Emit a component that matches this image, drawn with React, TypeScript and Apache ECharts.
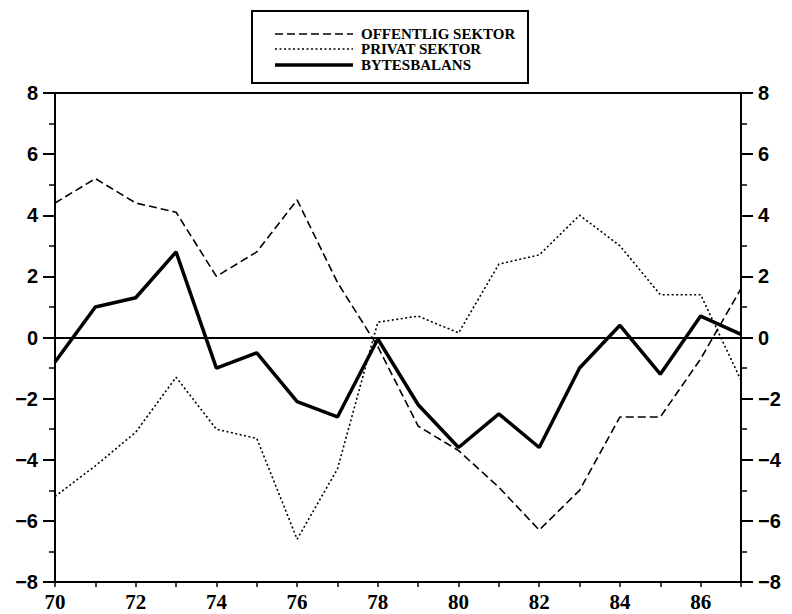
import React, { useEffect, useRef } from "react";
import * as echarts from "echarts";

const years = [70, 71, 72, 73, 74, 75, 76, 77, 78, 79, 80, 81, 82, 83, 84, 85, 86, 87];
const offentligSektor = [4.4, 5.2, 4.4, 4.1, 2.0, 2.8, 4.5, 1.8, -0.3, -2.9, -3.7, -4.9, -6.3, -5.0, -2.6, -2.6, -0.7, 1.6];
const privatSektor = [-5.2, -4.2, -3.1, -1.3, -3.0, -3.3, -6.6, -4.3, 0.5, 0.7, 0.15, 2.4, 2.7, 4.0, 3.0, 1.4, 1.4, -1.4];
const bytesbalans = [-0.8, 1.0, 1.3, 2.8, -1.0, -0.5, -2.1, -2.6, -0.05, -2.2, -3.6, -2.5, -3.6, -1.0, 0.4, -1.2, 0.7, 0.1];
const seriesNames = ["OFFENTLIG SEKTOR", "PRIVAT SEKTOR", "BYTESBALANS"];
const yMin = -8;
const yMax = 8;

const fmtY = (v: number) => (v < 0 ? "\u2212" + Math.abs(v) : String(v));

const dashPattern = [8, 4];
const dotPattern = [2, 2.5];

export default function App() {
  const ref = useRef<HTMLDivElement>(null);
  useEffect(() => {
    if (!ref.current) return;
    const chart = echarts.init(ref.current, undefined, { renderer: "svg" });
    const pair = (arr: number[]) => years.map((y, i) => [y, arr[i]]);
    const yAxisBase = (pos: "left" | "right") => ({
      type: "value",
      position: pos,
      min: yMin,
      max: yMax,
      interval: 2,
      axisLine: { show: true, lineStyle: { color: "#000", width: 2 } },
      axisTick: { show: true, length: 12, lineStyle: { color: "#000", width: 2 } },
      minorTick: { show: true, splitNumber: 2, length: 6, lineStyle: { color: "#000", width: 1.5 } },
      splitLine: { show: false },
      axisLabel: {
        formatter: fmtY,
        color: "#000",
        fontFamily: "Liberation Sans",
        fontWeight: "bold",
        fontSize: 20,
        margin: 17,
      },
    });

    const legendRows = [
      { y: 34, dash: dashPattern, width: 1.6 },
      { y: 49, dash: dotPattern, width: 1.6 },
      { y: 65, dash: null as number[] | null, width: 3.5 },
    ];
    const legendGraphic: any[] = [
      {
        type: "rect",
        shape: { x: 252, y: 11, width: 276, height: 72 },
        style: { fill: "none", stroke: "#000", lineWidth: 2 },
        silent: true,
      },
    ];
    legendRows.forEach((r, i) => {
      legendGraphic.push({
        type: "line",
        shape: { x1: 275, y1: r.y, x2: 353, y2: r.y },
        style: { stroke: "#000", lineWidth: r.width, lineDash: r.dash || undefined },
        silent: true,
      });
      legendGraphic.push({
        type: "text",
        x: 361,
        y: r.y,
        style: {
          text: seriesNames[i],
          fill: "#000",
          font: "bold 15px 'Liberation Serif'",
          verticalAlign: "middle",
          align: "left",
        },
        silent: true,
      });
    });

    chart.setOption({
      animation: false,
      backgroundColor: "#fff",
      grid: {
        left: 55,
        right: 51,
        top: 93,
        bottom: 32,
        show: true,
        borderColor: "#000",
        borderWidth: 2,
        containLabel: false,
        outerBoundsMode: "none",
      },
      legend: { show: false },
      graphic: legendGraphic,
      xAxis: {
        type: "value",
        min: 70,
        max: 87,
        interval: 1,
        axisLine: { show: true, onZero: false, lineStyle: { color: "#000", width: 2 } },
        axisTick: { show: true, length: 5, lineStyle: { color: "#000", width: 1.5 } },
        splitLine: { show: false },
        axisLabel: {
          formatter: (v: number) => (v % 2 === 0 ? String(v) : ""),
          color: "#000",
          fontFamily: "Liberation Serif",
          fontWeight: "bold",
          fontSize: 21,
          margin: 9,
          showMaxLabel: true,
        },
      },
      yAxis: [yAxisBase("left"), yAxisBase("right")],
      series: [
        {
          name: seriesNames[0],
          type: "line",
          data: pair(offentligSektor),
          symbol: "none",
          lineStyle: { color: "#000", width: 1.6, type: dashPattern },
          itemStyle: { color: "#000" },
          z: 3,
        },
        {
          name: seriesNames[1],
          type: "line",
          data: pair(privatSektor),
          symbol: "none",
          lineStyle: { color: "#000", width: 1.6, type: dotPattern },
          itemStyle: { color: "#000" },
          z: 3,
        },
        {
          name: seriesNames[2],
          type: "line",
          data: pair(bytesbalans),
          symbol: "none",
          lineStyle: { color: "#000", width: 3.5, type: "solid" },
          itemStyle: { color: "#000" },
          z: 4,
          markLine: {
            silent: true,
            symbol: "none",
            label: { show: false },
            lineStyle: { color: "#000", width: 2, type: "solid" },
            data: [{ yAxis: 0 }],
          },
        },
      ],
    });
    return () => chart.dispose();
  }, []);
  return <div ref={ref} style={{ width: 792, height: 614, position: "absolute", left: 0, top: 0 }} />;
}
